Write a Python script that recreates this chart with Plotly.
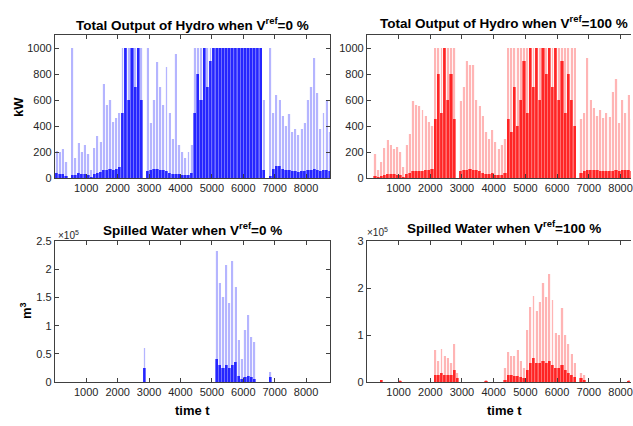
import plotly.graph_objects as go

W, H = 633, 426

# hour blocks (start hour of each 100-h block)
hours = list(range(0, 8760, 100))
block_centers = [h + 50 for h in hours]

# ---- Total output of hydro, V_ref = 0 %  (kW): block peak and dense level
out0_peak = [210, 200, 220, 120, 0, 1000, 150, 270, 200, 250,
             180, 60, 230, 320, 280, 720, 560, 600, 430, 460,
             500, 1000, 1000, 1000, 1000, 1000, 1000, 1000, 0, 1000,
             420, 600, 890, 700, 560, 850, 500, 300, 950, 250,
             200, 150, 200, 250, 1000, 1000, 1000, 1000, 1000, 1000,
             1000, 1000, 1000, 1000, 1000, 1000, 1000, 1000, 1000, 1000,
             1000, 1000, 1000, 1000, 1000, 1000, 600, 0, 1000, 500,
             640, 600, 480, 400, 490, 350, 380, 330, 380, 420,
             600, 700, 920, 650, 380, 500, 600, 350]
out0_level = [40, 30, 30, 10, 0, 20, 25, 40, 30, 30,
              25, 5, 30, 40, 45, 60, 60, 65, 60, 70,
              80, 500, 1000, 600, 1000, 700, 1000, 600, 0, 50,
              60, 70, 70, 60, 60, 50, 40, 30, 30, 30,
              25, 25, 25, 40, 500, 800, 600, 1000, 700, 900,
              1000, 1000, 1000, 1000, 1000, 1000, 1000, 1000, 1000, 1000,
              1000, 1000, 1000, 1000, 1000, 1000, 60, 0, 15, 70,
              90, 90, 70, 60, 60, 50, 50, 45, 50, 50,
              60, 60, 70, 60, 55, 60, 60, 50]

# ---- Total output of hydro, V_ref = 100 %  (kW)
out100_peak = [0, 0, 185, 60, 120, 230, 290, 250, 220, 240,
               200, 80, 250, 340, 590, 560, 550, 520, 480, 430,
               400, 1000, 1000, 1000, 1000, 1000, 1000, 1000, 0, 590,
               700, 900, 870, 870, 600, 550, 480, 350, 300, 370,
               280, 220, 250, 300, 1000, 1000, 1000, 1000, 1000, 1000,
               1000, 1000, 1000, 1000, 1000, 1000, 1000, 1000, 1000, 1000,
               1000, 1000, 1000, 1000, 1000, 1000, 0, 450, 500, 920,
               600, 540, 480, 520, 460, 500, 470, 660, 760, 420,
               600, 500, 640, 450, 380, 500, 600, 350]
out100_level = [0, 0, 15, 5, 15, 25, 30, 30, 30, 25,
                25, 5, 30, 40, 50, 50, 55, 55, 60, 60,
                70, 450, 800, 500, 1000, 600, 800, 450, 0, 50,
                60, 60, 70, 60, 60, 50, 40, 30, 30, 40,
                25, 25, 25, 40, 450, 350, 700, 400, 600, 900,
                500, 1000, 700, 1000, 600, 1000, 800, 1000, 700, 1000,
                600, 900, 500, 800, 600, 400, 0, 40, 50, 60,
                60, 60, 60, 55, 55, 50, 50, 55, 60, 55,
                60, 60, 60, 55, 50, 55, 60, 50]

# ---- Spilled water, V_ref = 0 %  (m^3)
sp0_peak = [0] * 88
sp0_level = [0] * 88
for i, p, l in [(28, 60000, 25000), (51, 233000, 40000), (52, 175000, 30000),
                (53, 150000, 25000), (54, 208000, 30000), (55, 140000, 25000),
                (56, 215000, 30000), (57, 168000, 35000), (58, 75000, 10000),
                (59, 40000, 5000), (60, 92000, 8000), (61, 118000, 10000),
                (62, 80000, 8000), (63, 70000, 5000), (68, 17000, 8000)]:
    sp0_peak[i] = p
    sp0_level[i] = l

# ---- Spilled water, V_ref = 100 %  (m^3)
sp100_peak = [0] * 88
sp100_level = [0] * 88
for i, p, l in [(4, 5000, 2000), (10, 4000, 1000), (21, 68000, 15000),
                (22, 45000, 15000), (23, 70000, 20000), (24, 55000, 15000),
                (25, 50000, 15000), (26, 40000, 15000), (27, 80000, 25000),
                (28, 20000, 8000), (37, 3000, 1000), (43, 30000, 5000),
                (44, 63000, 15000), (45, 55000, 15000), (46, 55000, 12000),
                (47, 68000, 12000), (48, 45000, 10000), (49, 30000, 8000),
                (50, 110000, 25000), (51, 160000, 40000), (52, 183000, 50000),
                (53, 150000, 40000), (54, 170000, 40000), (55, 210000, 45000),
                (56, 180000, 40000), (57, 229000, 45000), (58, 175000, 35000),
                (59, 105000, 30000), (60, 100000, 30000), (61, 157000, 35000),
                (62, 100000, 25000), (63, 80000, 20000), (64, 60000, 15000),
                (65, 40000, 10000), (67, 20000, 8000), (68, 15000, 5000),
                (82, 3000, 1000)]:
    sp100_peak[i] = p
    sp100_level[i] = l

x_ticks = [1000, 2000, 3000, 4000, 5000, 6000, 7000, 8000]
y_ticks_kw = [0, 200, 400, 600, 800, 1000]
y_ticks_sp0 = [0, 50000, 100000, 150000, 200000, 250000]
y_text_sp0 = ["0", "0.5", "1", "1.5", "2", "2.5"]
y_ticks_sp100 = [0, 100000, 200000, 300000]
y_text_sp100 = ["0", "1", "2", "3"]

fig = go.Figure()


def add_panel(peak, level, color, xa, ya):
    common = dict(x=block_centers, xaxis=xa, yaxis=ya, showlegend=False,
                  hoverinfo="skip")
    mk = dict(color=color, line=dict(width=0))
    fig.add_trace(go.Bar(y=peak, width=100, opacity=0.04, marker=mk, **common))
    fig.add_trace(go.Bar(y=peak, width=30, opacity=0.26, marker=mk, **common))
    fig.add_trace(go.Bar(y=level, width=100, opacity=0.55, marker=mk, **common))
    fig.add_trace(go.Bar(y=level, width=45, opacity=0.55, marker=mk, **common))


add_panel(out0_peak, out0_level, "#0000ff", "x", "y")
add_panel(out100_peak, out100_level, "#ff0000", "x2", "y2")
add_panel(sp0_peak, sp0_level, "#0000ff", "x3", "y3")
add_panel(sp100_peak, sp100_level, "#ff0000", "x4", "y4")

FONT = "Liberation Sans, Arial, Helvetica, sans-serif"
AX = "#404040"
TXT = "#262626"

L0, L1 = 55 / W, 331 / W
R0, R1 = 368 / W, 1.0
T_top = (1 - 177 / H, 1 - 30 / H)
T_bot = (1 - 387 / H, 1 - 242 / H)


def xa(domain, rng, anchor):
    return dict(domain=domain, range=rng, anchor=anchor, tickvals=x_ticks,
                ticks="inside", ticklen=4, tickcolor=AX, showline=True,
                linecolor=AX, linewidth=1, mirror="ticks", showgrid=False,
                zeroline=False, ticklabeloverflow="allow",
                tickfont=dict(family=FONT, size=11, color=TXT))


def ya(domain, rng, anchor, tv, tt=None, mirror="ticks"):
    d = dict(domain=domain, range=rng, anchor=anchor, tickvals=tv,
             ticks="inside", ticklen=4, tickcolor=AX, showline=True,
             linecolor=AX, linewidth=1, mirror=mirror, showgrid=False,
             zeroline=False, tickfont=dict(family=FONT, size=11, color=TXT))
    if tt is not None:
        d["ticktext"] = tt
    return d


fig.update_layout(
    width=W, height=H, margin=dict(l=0, r=0, t=0, b=0),
    paper_bgcolor="white", plot_bgcolor="white",
    barmode="overlay", bargap=0,
    font=dict(family=FONT, color=TXT),
    xaxis=xa([L0, L1], [0, 8760], "y"),
    yaxis=ya(T_top, [0, 1100], "x", y_ticks_kw),
    xaxis2=xa([R0, R1], [0, 8330], "y2"),
    yaxis2=ya(T_top, [0, 1100], "x2", y_ticks_kw, mirror=False),
    xaxis3=xa([L0, L1], [0, 8760], "y3"),
    yaxis3=ya(T_bot, [0, 250000], "x3", y_ticks_sp0, y_text_sp0),
    xaxis4=xa([R0, R1], [0, 8330], "y4"),
    yaxis4=ya(T_bot, [0, 300000], "x4", y_ticks_sp100, y_text_sp100, mirror=False),
)

ann = []
tfont = dict(family=FONT, size=13.5, color="#000000")


def title(text, xc, yc):
    ann.append(dict(text="<b>" + text + "</b>", x=xc / W, y=1 - yc / H,
                    xref="paper", yref="paper", showarrow=False,
                    xanchor="center", yanchor="middle", font=tfont))


title("Total Output of Hydro when V<sup>ref</sup>=0 %", 193, 19)
title("Total Output of Hydro when V<sup>ref</sup>=100 %", 506, 16)
title("Spilled Water when V<sup>ref</sup>=0 %", 193, 229)
title("Spilled Water when V<sup>ref</sup>=100 %", 506, 227)

lfont = dict(family=FONT, size=13, color="#000000")
ann.append(dict(text="<b>kW</b>", x=18 / W, y=1 - 104 / H, xref="paper",
                yref="paper", showarrow=False, textangle=-90, font=lfont,
                xanchor="center", yanchor="middle"))
ann.append(dict(text="<b>m<sup>3</sup></b>", x=26 / W, y=1 - 313 / H,
                xref="paper", yref="paper", showarrow=False, textangle=-90,
                font=lfont, xanchor="center", yanchor="middle"))
ann.append(dict(text="<b>time t</b>", x=193 / W, y=1 - 416 / H, xref="paper",
                yref="paper", showarrow=False, font=lfont,
                xanchor="center", yanchor="middle"))
ann.append(dict(text="<b>time t</b>", x=506 / W, y=1 - 416 / H, xref="paper",
                yref="paper", showarrow=False, font=lfont,
                xanchor="center", yanchor="middle"))
efont = dict(family=FONT, size=10, color=TXT)
ann.append(dict(text="×10<sup>5</sup>", x=56 / W, y=1 - 236 / H, xref="paper",
                yref="paper", showarrow=False, font=efont,
                xanchor="left", yanchor="middle"))
ann.append(dict(text="×10<sup>5</sup>", x=366 / W, y=1 - 233 / H, xref="paper",
                yref="paper", showarrow=False, font=efont,
                xanchor="left", yanchor="middle"))
fig.update_layout(annotations=ann)

fig.write_html(
    "out.html",
    config={"displayModeBar": False},
    post_script="document.body.style.margin='0';"
                "document.body.style.overflow='hidden';",
)
